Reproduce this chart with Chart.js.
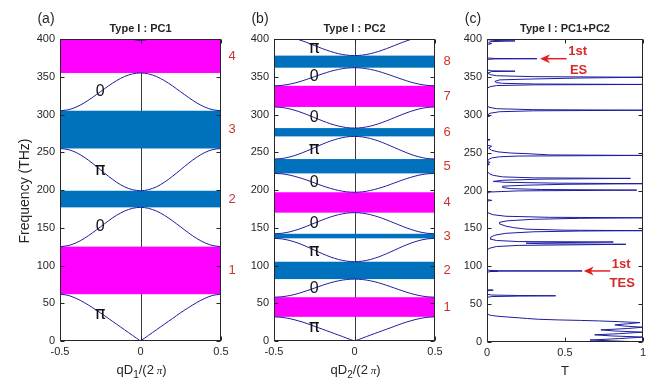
<!DOCTYPE html>
<html><head><meta charset="utf-8">
<script src="https://cdn.jsdelivr.net/npm/chart.js@4"></script>
<style>
html,body{margin:0;padding:0;background:#fff;}
#wrap{position:relative;width:662px;height:390px;background:#fff;}
canvas{position:absolute;left:0;top:0;}
</style>
</head><body>
<div id="wrap">
<canvas id="ca" width="662" height="390"></canvas>
<canvas id="cb" width="662" height="390"></canvas>
<canvas id="cc" width="662" height="390"></canvas>
</div>
<script>
// ---------- data ----------
const qGrid = [-0.5,-0.45,-0.4,-0.35,-0.3,-0.25,-0.2,-0.15,-0.1,-0.05,0,0.05,0.1,0.15,0.2,0.25,0.3,0.35,0.4,0.45,0.5];

// PC1 band structure (THz)
const pc1Band1 = [62,60.5,56.5,51,44.5,37.5,30,22.5,15,7.5,0,7.5,15,22.5,30,37.5,44.5,51,56.5,60.5,62];
const pc1Band2 = [125,126.3,130,135.7,143,151,159,166.3,172,175.7,177,175.7,172,166.3,159,151,143,135.7,130,126.3,125];
const pc1Band3 = [255,253.6,249.7,243.5,235.7,227,218.3,210.5,204.3,200.4,199,200.4,204.3,210.5,218.3,227,235.7,243.5,249.7,253.6,255];
const pc1Band4 = [305,306.2,309.8,315.3,322.3,330,337.7,344.7,350.2,353.8,355,353.8,350.2,344.7,337.7,330,322.3,315.3,309.8,306.2,305];
const pc1Band5 = [478,476,470,461.5,450.4,438,425.6,414.5,405.6,400,398,400,405.6,414.5,425.6,438,450.4,461.5,470,476,478];
const pc1GapLow  = [62,177,255,355];
const pc1GapHigh = [125,199,305,400];
const pc1GapType = ['m','b','b','m'];
const pc1GapNames = ['1','2','3','4'];
const pc1PhaseText = ['π','0','π','0'];
const pc1PhaseFreq = [36,151,227,330];

// PC2 band structure (THz)
const pc2Band1 = [32,31.3,29.5,26.8,23.5,19.6,15.7,11.8,7.9,3.9,0,3.9,7.9,11.8,15.7,19.6,23.5,26.8,29.5,31.3,32];
const pc2Band2 = [58,58.6,60.3,62.9,66.3,70,73.7,77.1,79.7,81.4,82,81.4,79.7,77.1,73.7,70,66.3,62.9,60.3,58.6,58];
const pc2Band3 = [136,135.2,133,129.6,125.3,120.5,115.7,111.4,108,105.8,105,105.8,108,111.4,115.7,120.5,125.3,129.6,133,135.2,136];
const pc2Band4 = [142,142.7,144.7,147.8,151.7,156,160.3,164.2,167.3,169.3,170,169.3,167.3,164.2,160.3,156,151.7,147.8,144.7,142.7,142];
const pc2Band5 = [222,221.4,219.6,216.8,213.4,209.5,205.6,202.2,199.4,197.6,197,197.6,199.4,202.2,205.6,209.5,213.4,216.8,219.6,221.4,222];
const pc2Band6 = [241,241.7,243.9,247.2,251.4,256,260.6,264.8,268.1,270.3,271,270.3,268.1,264.8,260.6,256,251.4,247.2,243.9,241.7,241];
const pc2Band7 = [310,309.3,307.3,304.2,300.3,296,291.7,287.8,284.7,282.7,282,282.7,284.7,287.8,291.7,296,300.3,304.2,307.3,309.3,310];
const pc2Band8 = [338,338.6,340.3,342.9,346.3,350,353.7,357.1,359.7,361.4,362,361.4,359.7,357.1,353.7,350,346.3,342.9,340.3,338.6,338];
const pc2Band9 = [405,404.3,402.4,399.4,395.7,391.5,387.3,383.6,380.6,378.7,378,378.7,380.6,383.6,387.3,391.5,395.7,399.4,402.4,404.3,405];
const pc2GapLow  = [32,82,136,170,222,271,310,362];
const pc2GapHigh = [58,105,142,197,241,282,338,378];
const pc2GapType = ['m','b','b','m','b','b','m','b'];
const pc2GapNames = ['1','2','3','4','5','6','7','8'];
const pc2PhaseText = ['π','0','π','0','0','π','0','0','π'];
const pc2PhaseFreq = [19,70,120,156,209.5,255,296,350,389];

// PC1+PC2 transmission
const freqC  = [0,1.5,2.6,4.5,6.5,8,9.5,11,13,14.5,16,17.8,19.5,21,22.6,24,25.6,26.8,27.8,28.5,29.2,30,31,32,33,34,35,36,38,40,
  59,60,60.6,61,61.4,62,63,67.5,68,68.5,69,70,92,93,93.4,93.6,93.8,94,95,
  120,122,124,126,127.5,129,129.7,130.5,131.3,132,132.6,134,136,138.5,141,143.5,145.5,146.5,147,147.6,149,151,153,156,158,160,162,163.3,164,164.6,166,168,170,173,
  186,187,188,196,198,199.5,200.5,201.3,202.5,204,205.7,207,208.2,209,209.7,210.8,212,213.5,215,216,216.7,218,220,222,225,
  233,234.5,235.5,237,238.5,241,243,244.5,245.5,246.3,247,248.5,249.5,251,253,256,258.5,259.5,262,266,267,268,
  297,298.5,300,302,304,305.2,306,306.7,308,310,313,335,337,338.5,339.5,340,340.6,341.5,342.5,344,346,347,348.5,349.5,350.3,351.5,353,355,
  357,357.5,358,359,362,373,373.7,374,374.3,375,392,393,394,395,396.5,397.5,398,399,400];
const transC = [1,0.8,0.66,0.85,1,0.8,0.69,0.85,1,0.82,0.73,0.9,1,0.88,0.82,0.9,0.98,0.85,0.72,0.6,0.45,0.33,0.26,0.2,0.13,0.07,0.03,0.01,0.003,0,
  0,0.03,0.2,0.44,0.2,0.03,0,0,0.02,0.04,0.01,0,0,0.02,0.07,0.02,0.61,0.05,0,
  0,0.005,0.02,0.06,0.2,0.89,0.35,0.25,0.5,0.81,0.2,0.06,0.02,0.024,0.05,0.12,0.3,0.6,1,0.5,0.25,0.17,0.12,0.08,0.08,0.13,0.3,0.6,1,0.4,0.12,0.04,0.01,0,
  0,0.03,0,0,0.02,0.2,0.96,0.35,0.15,0.1,0.1,0.25,0.5,1,0.45,0.12,0.04,0.1,0.35,0.92,0.3,0.1,0.04,0.015,0.003,
  0,0.015,0.003,0.02,0.003,0.01,0.03,0.08,0.2,1,0.4,0.27,0.15,0.07,0.03,0.01,0.03,0.005,0,0,0.02,0,
  0,0.02,0.005,0.02,0.08,0.3,1,0.3,0.06,0.01,0,0,0.02,0.06,0.3,1,0.3,0.1,0.06,0.05,0.08,0.25,0.6,1,0.3,0.06,0.02,0.005,
  0.03,0.18,0.03,0.005,0,0,0.05,0.32,0.05,0,0,0.01,0.03,0.01,0.02,0.18,0.05,0.01,0.02];

const freqTicks = [0,50,100,150,200,250,300,350,400];
const esMark  = {f:374, tTail:0.51, tHead:0.34};
const tesMark = {f:93.8, tTail:0.79, tHead:0.62};

// ---------- styles ----------
const AX = '#262626';
const LINE = '#1c1ca0';
const MAG = '#FF00FF';
const BLU = '#0072BD';
const RED = '#cc3333';
const SANS = '"Liberation Sans", Arial, sans-serif';

function bandDatasets(bands, splitFirst) {
  const ds = [];
  bands.forEach((b, k) => {
    const pts = qGrid.map((q, i) => ({x:q, y:b[i]}));
    if (k === 0 && splitFirst) {
      ds.push({data: pts.slice(0, 11)});
      ds.push({data: pts.slice(10)});
    } else ds.push({data: pts});
  });
  ds.forEach(d => Object.assign(d, {borderColor: LINE, borderWidth: 1, pointRadius: 0, tension: 0.3, fill: false}));
  return ds;
}

function xTitleBand(ctx, cx, cy, sub) {
  ctx.save();
  ctx.fillStyle = AX; ctx.textBaseline = 'alphabetic'; ctx.textAlign = 'left';
  const parts = [
    {t:'qD', f:'13px ' + SANS, dy:0},
    {t:sub, f:'10px ' + SANS, dy:4},
    {t:'/(2', f:'13px ' + SANS, dy:0},
    {t:' π', f:'italic 11px "Liberation Serif", serif', dy:0},
    {t:')', f:'13px ' + SANS, dy:0}
  ];
  let w = 0;
  parts.forEach(p => { ctx.font = p.f; p.w = ctx.measureText(p.t).width; w += p.w; });
  let x = cx - w / 2;
  parts.forEach(p => { ctx.font = p.f; ctx.fillText(p.t, x, cy + 4 + p.dy); x += p.w; });
  ctx.restore();
}

const framePlugin = {
  id: 'frame',
  beforeDatasetsDraw(chart) {
    const o = chart.options.plugins.frame;
    const {ctx, chartArea: a, scales: {x, y}} = chart;
    ctx.save();
    ctx.beginPath(); ctx.rect(a.left, a.top, a.right - a.left, a.bottom - a.top); ctx.clip();
    if (o.zeroLine) {
      const px = Math.round(x.getPixelForValue(0)) + 0.5;
      ctx.strokeStyle = '#3a3a3a'; ctx.lineWidth = 1;
      ctx.beginPath(); ctx.moveTo(px, a.top); ctx.lineTo(px, a.bottom); ctx.stroke();
    }
    if (o.gaps) {
      const g = o.gaps;
      g.lo.forEach((lo, i) => {
        const y1 = y.getPixelForValue(g.hi[i]), y2 = y.getPixelForValue(lo);
        const x1 = x.getPixelForValue(x.min), x2 = x.getPixelForValue(x.max);
        ctx.fillStyle = g.type[i] === 'm' ? MAG : BLU;
        ctx.fillRect(x1, y1, x2 - x1, y2 - y1);
      });
    }
    ctx.restore();
  },
  afterDatasetsDraw(chart) {
    const o = chart.options.plugins.frame;
    const {ctx, chartArea: a, scales: {x, y}} = chart;
    ctx.save();
    // box
    ctx.strokeStyle = AX; ctx.lineWidth = 1;
    const L = Math.round(a.left) + 0.5, R = Math.round(a.right) - 0.5, T = Math.round(a.top) + 0.5, B = Math.round(a.bottom) - 0.5;
    ctx.strokeRect(L, T, R - L, B - T);
    // inward ticks
    ctx.beginPath();
    y.ticks.forEach(t => {
      const py = Math.round(y.getPixelForValue(t.value)) + 0.5;
      ctx.moveTo(L, py); ctx.lineTo(L + 4, py);
      ctx.moveTo(R, py); ctx.lineTo(R - 4, py);
    });
    x.ticks.forEach(t => {
      const px = Math.round(x.getPixelForValue(t.value)) + 0.5;
      ctx.moveTo(px, B); ctx.lineTo(px, B - 4);
      ctx.moveTo(px, T); ctx.lineTo(px, T + 4);
    });
    ctx.stroke();
    // panel letter and title
    const cx = (a.left + a.right) / 2;
    ctx.fillStyle = AX; ctx.textAlign = 'center'; ctx.textBaseline = 'middle';
    ctx.font = 'bold 11px ' + SANS;
    ctx.fillText(o.title, cx, 29);
    ctx.font = '14px ' + SANS;
    ctx.fillText(o.letter, a.left - 14, 19);
    // axis title
    if (o.sub) xTitleBand(ctx, cx + 1, 370, o.sub);
    else { ctx.font = '13px ' + SANS; ctx.fillText(o.xTitle, cx, 371); }
    if (o.yTitle) {
      ctx.save(); ctx.translate(25, 191); ctx.rotate(-Math.PI / 2);
      ctx.font = '14px ' + SANS; ctx.fillText(o.yTitle, 0, 0); ctx.restore();
    }
    // gap numbers
    if (o.gaps) {
      ctx.fillStyle = RED; ctx.font = '13px ' + SANS;
      o.gaps.lo.forEach((lo, i) => {
        ctx.fillText(o.gaps.names[i], a.right + o.numOff, y.getPixelForValue((lo + o.gaps.hi[i]) / 2));
      });
    }
    // phase labels
    if (o.phase) {
      o.phase.text.forEach((t, i) => {
        ctx.fillStyle = '#111';
        ctx.font = t === 'π' ? '18px "DejaVu Sans", sans-serif' : '16px ' + SANS;
        ctx.fillText(t, x.getPixelForValue(-0.25), y.getPixelForValue(o.phase.freq[i]) + (t === 'π' ? 1 : 0));
      });
    }
    // arrows
    if (o.marks) {
      o.marks.forEach(m => {
        const py = y.getPixelForValue(m.f);
        const xh = x.getPixelForValue(m.tHead), xt = x.getPixelForValue(m.tTail);
        ctx.strokeStyle = '#e02020'; ctx.fillStyle = '#e02020'; ctx.lineWidth = 1.5;
        ctx.beginPath(); ctx.moveTo(xt, py); ctx.lineTo(xh + 6, py); ctx.stroke();
        ctx.beginPath(); ctx.moveTo(xh, py); ctx.lineTo(xh + 10, py - 4.5); ctx.lineTo(xh + 7, py); ctx.lineTo(xh + 10, py + 4.5); ctx.closePath(); ctx.fill();
        ctx.font = 'bold 13px ' + SANS; ctx.fillStyle = '#d42a2a';
        ctx.fillText(m.l1, xt + 11, py - 7);
        ctx.fillText(m.l2, xt + 12, py + 12);
      });
    }
    ctx.restore();
  }
};

function axes(xmin, xmax, xstep) {
  const tickFont = {family: SANS, size: 11};
  return {
    x: {type: 'linear', min: xmin, max: xmax,
        ticks: {stepSize: xstep, font: tickFont, color: AX, padding: 4, maxRotation: 0,
                callback: v => String(Math.round(v * 10) / 10)},
        grid: {display: false, drawTicks: false}, border: {display: false},
        afterFit(s) { s.height = 20; }},
    y: {type: 'linear', min: 0, max: 400, afterBuildTicks(s) { s.ticks = freqTicks.map(v => ({value: v})); },
        ticks: {font: tickFont, color: AX, padding: 5},
        grid: {display: false, drawTicks: false}, border: {display: false},
        afterFit(s) { s.width = 30; }}
  };
}

function make(id, datasets, pad, frame, xr) {
  return new Chart(document.getElementById(id), {
    type: 'line',
    data: {datasets},
    options: {
      responsive: false, animation: false, devicePixelRatio: 1,
      layout: {padding: pad},
      scales: axes(xr[0], xr[1], xr[2]),
      plugins: {legend: {display: false}, tooltip: {enabled: false}, frame}
    },
    plugins: [framePlugin]
  });
}

make('ca', bandDatasets([pc1Band1, pc1Band2, pc1Band3, pc1Band4, pc1Band5], true),
  {left: 30, right: 441, top: 39, bottom: 29},
  {title: 'Type I : PC1', letter: '(a)', sub: '1', yTitle: 'Frequency (THz)', zeroLine: true, numOff: 11,
   gaps: {lo: pc1GapLow, hi: pc1GapHigh, type: pc1GapType, names: pc1GapNames},
   phase: {text: pc1PhaseText, freq: pc1PhaseFreq}}, [-0.5, 0.5, 0.5]);

make('cb', bandDatasets([pc2Band1, pc2Band2, pc2Band3, pc2Band4, pc2Band5, pc2Band6, pc2Band7, pc2Band8, pc2Band9], true),
  {left: 244, right: 227, top: 39, bottom: 29},
  {title: 'Type I : PC2', letter: '(b)', sub: '2', zeroLine: true, numOff: 12,
   gaps: {lo: pc2GapLow, hi: pc2GapHigh, type: pc2GapType, names: pc2GapNames},
   phase: {text: pc2PhaseText, freq: pc2PhaseFreq}}, [-0.5, 0.5, 0.5]);

make('cc', [{data: freqC.map((f, i) => ({x: transC[i], y: f})), borderColor: LINE, borderWidth: 1, pointRadius: 0, tension: 0, fill: false}],
  {left: 457, right: 19, top: 39, bottom: 28},
  {title: 'Type I : PC1+PC2', letter: '(c)', xTitle: 'T',
   marks: [Object.assign({l1: '1st', l2: 'ES'}, esMark), Object.assign({l1: '1st', l2: 'TES'}, tesMark)]}, [0, 1, 0.5]);
</script>
</body></html>
